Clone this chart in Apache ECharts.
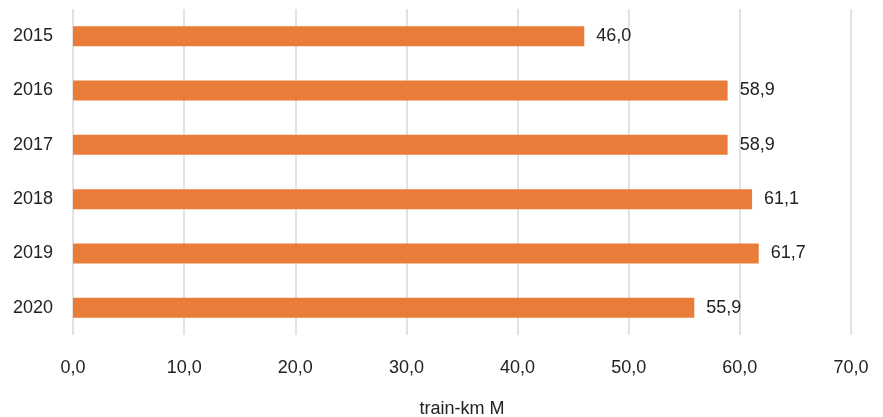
<!DOCTYPE html>
<html>
<head>
<meta charset="utf-8">
<script src="https://cdn.jsdelivr.net/npm/echarts@6/dist/echarts.min.js"></script>
<style>
  html, body { margin: 0; padding: 0; background: #fff; }
  #chart { width: 883px; height: 417px; }
</style>
</head>
<body>
<div id="chart"></div>
<script>
// Annual train-km (millions)
const years = ['2015', '2016', '2017', '2018', '2019', '2020'];
const trainKm = [46.0, 58.9, 58.9, 61.1, 61.7, 55.9];
const axisTitle = 'train-km M';

const FONT = '"Liberation Sans Narrow", "Arial Narrow", "Liberation Sans", Arial, sans-serif';
const SIZE = 18;
const fmt = v => v.toFixed(1).replace('.', ',');

const chart = echarts.init(document.getElementById('chart'));
chart.setOption({
  animation: false,
  grid: { left: 73, right: 32, top: 9, bottom: 82, containLabel: false, outerBoundsMode: 'none' },
  xAxis: {
    type: 'value',
    min: 0, max: 70, interval: 10,
    name: axisTitle,
    nameLocation: 'middle',
    nameGap: 65,
    nameTextStyle: { fontFamily: FONT, fontSize: SIZE, color: '#222' },
    axisLine: { show: false },
    axisTick: { show: false },
    axisLabel: { formatter: fmt, fontFamily: FONT, fontSize: SIZE, color: '#222', margin: 24 },
    splitLine: { show: true, lineStyle: { color: '#d9d9d9', width: 1.5 } }
  },
  yAxis: {
    type: 'category',
    data: years,
    inverse: true,
    axisLine: { show: false },
    axisTick: { show: false },
    axisLabel: { fontFamily: FONT, fontSize: SIZE, color: '#222', margin: 20 },
    splitLine: { show: false }
  },
  series: [{
    type: 'bar',
    data: trainKm,
    barWidth: 20,
    itemStyle: { color: '#E97C38' },
    label: {
      show: true,
      position: 'right',
      distance: 12,
      formatter: p => fmt(p.value),
      fontFamily: FONT, fontSize: SIZE, color: '#222'
    }
  }]
});
</script>
</body>
</html>
